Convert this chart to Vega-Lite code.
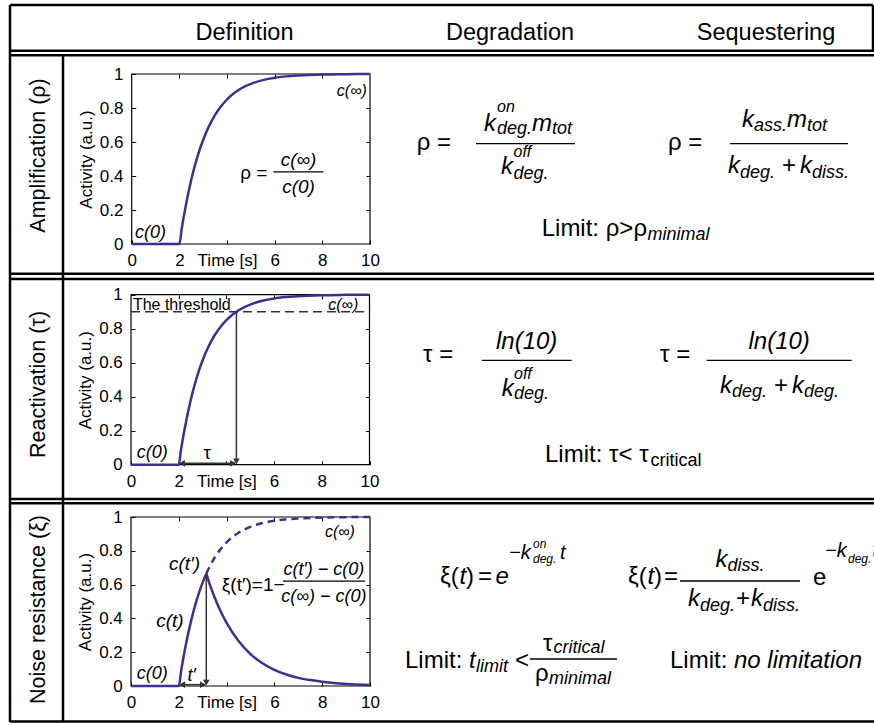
{
"$schema": "https://vega.github.io/schema/vega-lite/v6.json",
"width": 874, "height": 725, "autosize": {"type": "none"}, "padding": 0, "background": "white",
"config": {"view": {"stroke": null}, "font": "Liberation Sans", "axis": {"labelFont": "Liberation Sans", "titleFont": "Liberation Sans"}},
"datasets": {
"tbl": [
{"x":10,"x2":873,"y":5,"y2":5},{"x":873,"x2":873,"y":5,"y2":50.7},{"x":10,"x2":10,"y":5,"y2":722},{"x":63,"x2":63,"y":55.3,"y2":722},
{"x":10,"x2":874,"y":50.7,"y2":50.7},{"x":10,"x2":874,"y":55.3,"y2":55.3},{"x":10,"x2":874,"y":273.7,"y2":273.7},{"x":10,"x2":874,"y":279,"y2":279},
{"x":10,"x2":874,"y":498.9,"y2":498.9},{"x":10,"x2":874,"y":503.3,"y2":503.3},{"x":10,"x2":874,"y":721.5,"y2":721.5}],
"frac": [
{"x":476,"x2":575,"y":143.7},{"x":730,"x2":848,"y":143.7},{"x":481.7,"x2":571.7,"y":360.3},{"x":706.7,"x2":851.7,"y":360.3},{"x":680,"x2":800,"y":581},{"x":530,"x2":617,"y":659}],
"txt": [
{"x":244.5,"y":39.5,"text":"Definition","role":"head"},{"x":510,"y":39.5,"text":"Degradation","role":"head"},{"x":766,"y":39.5,"text":"Sequestering","role":"head"},
{"x":45,"y":155.5,"text":"Amplification (ρ)","role":"rowlab"},{"x":45,"y":384.5,"text":"Reactivation (τ)","role":"rowlab"},{"x":45,"y":609.5,"text":"Noise resistance (ξ)","role":"rowlab"},
{"x":416.7,"y":150,"text":"ρ =","role":"m"},{"x":668,"y":150,"text":"ρ =","role":"m"},{"x":782,"y":173,"text":"+","role":"m"},{"x":541.7,"y":236.3,"text":"Limit: ρ>ρ","role":"m"},
{"x":423,"y":361.5,"text":"τ =","role":"m"},{"x":660,"y":361.5,"text":"τ =","role":"m"},{"x":774,"y":392.7,"text":"+","role":"m"},{"x":545,"y":462,"text":"Limit: τ< τ","role":"m"},
{"x":440,"y":584,"text":"ξ(","role":"m"},{"x":466,"y":584,"text":")","role":"m"},{"x":478,"y":584,"text":"=","role":"m"},
{"x":628,"y":584,"text":"ξ(","role":"m"},{"x":654,"y":584,"text":")","role":"m"},{"x":664,"y":584,"text":"=","role":"m"},
{"x":736,"y":606.3,"text":"+","role":"m"},{"x":813,"y":585,"text":"e","role":"m"},
{"x":405,"y":668,"text":"Limit:","role":"m"},{"x":515,"y":668,"text":"<","role":"m"},{"x":543,"y":651.3,"text":"τ","role":"m"},{"x":535,"y":681,"text":"ρ","role":"m"},{"x":670,"y":668,"text":"Limit:","role":"m"},
{"x":484,"y":130.7,"text":"k","role":"mi"},{"x":532,"y":130.7,"text":"m","role":"mi"},{"x":501,"y":174,"text":"k","role":"mi"},
{"x":742,"y":127.3,"text":"k","role":"mi"},{"x":787,"y":127.3,"text":"m","role":"mi"},{"x":728,"y":173,"text":"k","role":"mi"},{"x":800,"y":173,"text":"k","role":"mi"},
{"x":496,"y":349.3,"text":"ln(10)","role":"mi"},{"x":748.5,"y":349.3,"text":"ln(10)","role":"mi"},{"x":501.7,"y":396,"text":"k","role":"mi"},
{"x":720,"y":392.7,"text":"k","role":"mi"},{"x":792,"y":392.7,"text":"k","role":"mi"},
{"x":459.5,"y":584,"text":"t","role":"mi"},{"x":495.5,"y":584,"text":"e","role":"mi"},{"x":647.5,"y":584,"text":"t","role":"mi"},
{"x":715.5,"y":567.3,"text":"k","role":"mi"},{"x":688,"y":606.3,"text":"k","role":"mi"},{"x":751,"y":606.3,"text":"k","role":"mi"},
{"x":469,"y":668,"text":"t","role":"mi"},{"x":734,"y":668,"text":"no limitation","role":"mi"},
{"x":497,"y":134,"text":"deg.","role":"sub"},{"x":552,"y":134,"text":"tot","role":"sub"},{"x":513.5,"y":179,"text":"deg.","role":"sub"},
{"x":754,"y":131.3,"text":"ass.","role":"sub"},{"x":807,"y":131.3,"text":"tot","role":"sub"},{"x":740,"y":178,"text":"deg.","role":"sub"},{"x":812,"y":178,"text":"diss.","role":"sub"},
{"x":647.4,"y":240,"text":"minimal","role":"sub"},{"x":514,"y":399.3,"text":"deg.","role":"sub"},{"x":732,"y":397,"text":"deg.","role":"sub"},{"x":804,"y":397,"text":"deg.","role":"sub"},
{"x":727.5,"y":571,"text":"diss.","role":"sub"},{"x":700,"y":610.7,"text":"deg.","role":"sub"},{"x":763,"y":610.7,"text":"diss.","role":"sub"},
{"x":476,"y":672,"text":"limit","role":"sub"},{"x":553.5,"y":653,"text":"critical","role":"sub"},{"x":548.9,"y":684,"text":"minimal","role":"sub"},
{"x":650.6,"y":466,"text":"critical","role":"subn"},
{"x":497,"y":112.3,"text":"on","role":"sup"},{"x":513.5,"y":157.3,"text":"off","role":"sup"},{"x":514,"y":378.7,"text":"off","role":"sup"},
{"x":509,"y":558.7,"text":"−k","role":"exp"},{"x":560,"y":558.7,"text":"t","role":"exp"},{"x":825,"y":557,"text":"−k","role":"exp"},{"x":872.5,"y":557,"text":"t","role":"exp"},
{"x":533,"y":548,"text":"on","role":"tiny"},{"x":533,"y":563,"text":"deg.","role":"tiny"},{"x":848,"y":563,"text":"deg.","role":"tiny"}],
"c12": [{"t":0,"v":0},{"t":2,"v":0},{"t":2.1,"v":0.091},{"t":2.25,"v":0.211},{"t":2.5,"v":0.378},{"t":2.75,"v":0.51},{"t":3,"v":0.613},{"t":3.25,"v":0.695},{"t":3.5,"v":0.76},{"t":3.75,"v":0.81},{"t":4,"v":0.85},{"t":4.25,"v":0.882},{"t":4.5,"v":0.907},{"t":4.75,"v":0.927},{"t":5,"v":0.942},{"t":5.5,"v":0.964},{"t":6,"v":0.978},{"t":6.5,"v":0.986},{"t":7,"v":0.991},{"t":8,"v":0.997},{"t":9,"v":0.999},{"t":10,"v":1}],
"c3": [
{"t":0,"v":0,"part":"rise"},{"t":2,"v":0,"part":"rise"},{"t":2.1,"v":0.091,"part":"rise"},{"t":2.25,"v":0.211,"part":"rise"},{"t":2.5,"v":0.378,"part":"rise"},{"t":2.75,"v":0.51,"part":"rise"},{"t":3,"v":0.613,"part":"rise"},{"t":3.15,"v":0.665,"part":"rise"},
{"t":3.15,"v":0.665,"part":"cont"},{"t":3.25,"v":0.695,"part":"cont"},{"t":3.5,"v":0.76,"part":"cont"},{"t":3.75,"v":0.81,"part":"cont"},{"t":4,"v":0.85,"part":"cont"},{"t":4.5,"v":0.907,"part":"cont"},{"t":5,"v":0.942,"part":"cont"},{"t":5.5,"v":0.964,"part":"cont"},{"t":6,"v":0.978,"part":"cont"},{"t":6.5,"v":0.986,"part":"cont"},{"t":7,"v":0.991,"part":"cont"},{"t":8,"v":0.997,"part":"cont"},{"t":9,"v":0.999,"part":"cont"},{"t":10,"v":1,"part":"cont"},
{"t":3.15,"v":0.665,"part":"decay"},{"t":3.25,"v":0.621,"part":"decay"},{"t":3.5,"v":0.524,"part":"decay"},{"t":3.75,"v":0.442,"part":"decay"},{"t":4,"v":0.373,"part":"decay"},{"t":4.5,"v":0.266,"part":"decay"},{"t":5,"v":0.189,"part":"decay"},{"t":5.5,"v":0.135,"part":"decay"},{"t":6,"v":0.096,"part":"decay"},{"t":6.5,"v":0.068,"part":"decay"},{"t":7,"v":0.048,"part":"decay"},{"t":7.5,"v":0.035,"part":"decay"},{"t":8,"v":0.025,"part":"decay"},{"t":9,"v":0.012,"part":"decay"},{"t":10,"v":0.006,"part":"decay"}],
"frame": [{"t0":0,"t1":10,"v0":0,"v1":1}],
"a1": [{"t":0.14,"v":0.035,"text":"c(0)","role":"lab"},{"t":9.87,"v":0.869,"text":"c(∞)","role":"inf"},{"t":4.55,"v":0.382,"text":"ρ =","role":"nl"},{"t":7.0,"v":0.457,"text":"c(∞)","role":"ci"},{"t":7.0,"v":0.3,"text":"c(0)","role":"ci"}],
"a2": [{"t":0.08,"v":0.912,"text":"The threshold","role":"thr"},{"t":9.53,"v":0.912,"text":"c(∞)","role":"inf"},{"t":0.24,"v":0.04,"text":"c(0)","role":"lab"},{"t":3.2,"v":0.032,"text":"τ","role":"nc"}],
"a3": [{"t":9.37,"v":0.88,"text":"c(∞)","role":"inf"},{"t":2.24,"v":0.688,"text":"c(t′)","role":"ci"},{"t":1.63,"v":0.347,"text":"c(t)","role":"ci"},{"t":0.24,"v":0.043,"text":"c(0)","role":"lab"},{"t":2.54,"v":0.031,"text":"t′","role":"cs"},{"t":3.8,"v":0.564,"text":"ξ(t′)=1−","role":"nl"},{"t":8.07,"v":0.655,"text":"c(t′) − c(0)","role":"cs"},{"t":8.07,"v":0.497,"text":"c(∞) − c(0)","role":"cs"}],
"fl1": [{"t":5.95,"t2":8.05,"v":0.424}],
"fl3": [{"t":6.36,"t2":9.79,"v":0.62}],
"thr2": [{"t":0,"t2":10,"v":0.9}],
"ar2": [{"t":4.42,"v":0.9,"t2":4.42,"v2":0.03},{"t":2.05,"v":0.008,"t2":4.35,"v2":0.008}],
"hd2": [{"t":4.42,"v":0.02,"dir":"down"},{"t":2.14,"v":0.008,"dir":"left"},{"t":4.28,"v":0.008,"dir":"right"}],
"ar3": [{"t":3.15,"v":0.66,"t2":3.15,"v2":0.03},{"t":2.05,"v":0.008,"t2":3.1,"v2":0.008}],
"hd3": [{"t":3.15,"v":0.02,"dir":"down"},{"t":2.14,"v":0.008,"dir":"left"},{"t":3.01,"v":0.008,"dir":"right"}]
},
"layer": [
{"layer": [
 {"data":{"name":"tbl"},"mark":{"type":"rule","color":"black","strokeWidth":2.5},"encoding":{"x":{"field":"x","type":"quantitative","scale":{"domain":[0,874],"range":[0,874],"nice":false,"zero":false},"axis":null},"x2":{"field":"x2"},"y":{"field":"y","type":"quantitative","scale":{"domain":[0,725],"range":[0,725],"nice":false,"zero":false},"axis":null},"y2":{"field":"y2"}}},
 {"data":{"name":"frac"},"mark":{"type":"rule","color":"black","strokeWidth":1.3},"encoding":{"x":{"field":"x","type":"quantitative","axis":null},"x2":{"field":"x2"},"y":{"field":"y","type":"quantitative","axis":null}}},
 {"data":{"name":"txt"},"transform":[{"filter":"datum.role == 'head'"}],"mark":{"type":"text","fontSize":23.5,"align":"center","baseline":"alphabetic","color":"black"},"encoding":{"x":{"field":"x","type":"quantitative","axis":null},"y":{"field":"y","type":"quantitative","axis":null},"text":{"field":"text"}}},
 {"data":{"name":"txt"},"transform":[{"filter":"datum.role == 'rowlab'"}],"mark":{"type":"text","fontSize":21.5,"angle":270,"align":"center","baseline":"alphabetic","color":"black"},"encoding":{"x":{"field":"x","type":"quantitative","axis":null},"y":{"field":"y","type":"quantitative","axis":null},"text":{"field":"text"}}},
 {"data":{"name":"txt"},"transform":[{"filter":"datum.role == 'm'"}],"mark":{"type":"text","fontSize":24,"align":"left","baseline":"alphabetic","color":"black"},"encoding":{"x":{"field":"x","type":"quantitative","axis":null},"y":{"field":"y","type":"quantitative","axis":null},"text":{"field":"text"}}},
 {"data":{"name":"txt"},"transform":[{"filter":"datum.role == 'mi'"}],"mark":{"type":"text","fontSize":24,"fontStyle":"italic","align":"left","baseline":"alphabetic","color":"black"},"encoding":{"x":{"field":"x","type":"quantitative","axis":null},"y":{"field":"y","type":"quantitative","axis":null},"text":{"field":"text"}}},
 {"data":{"name":"txt"},"transform":[{"filter":"datum.role == 'sub'"}],"mark":{"type":"text","fontSize":18,"fontStyle":"italic","align":"left","baseline":"alphabetic","color":"black"},"encoding":{"x":{"field":"x","type":"quantitative","axis":null},"y":{"field":"y","type":"quantitative","axis":null},"text":{"field":"text"}}},
 {"data":{"name":"txt"},"transform":[{"filter":"datum.role == 'subn'"}],"mark":{"type":"text","fontSize":18,"align":"left","baseline":"alphabetic","color":"black"},"encoding":{"x":{"field":"x","type":"quantitative","axis":null},"y":{"field":"y","type":"quantitative","axis":null},"text":{"field":"text"}}},
 {"data":{"name":"txt"},"transform":[{"filter":"datum.role == 'sup'"}],"mark":{"type":"text","fontSize":16,"fontStyle":"italic","align":"left","baseline":"alphabetic","color":"black"},"encoding":{"x":{"field":"x","type":"quantitative","axis":null},"y":{"field":"y","type":"quantitative","axis":null},"text":{"field":"text"}}},
 {"data":{"name":"txt"},"transform":[{"filter":"datum.role == 'exp'"}],"mark":{"type":"text","fontSize":20,"fontStyle":"italic","align":"left","baseline":"alphabetic","color":"black"},"encoding":{"x":{"field":"x","type":"quantitative","axis":null},"y":{"field":"y","type":"quantitative","axis":null},"text":{"field":"text"}}},
 {"data":{"name":"txt"},"transform":[{"filter":"datum.role == 'tiny'"}],"mark":{"type":"text","fontSize":12,"fontStyle":"italic","align":"left","baseline":"alphabetic","color":"black"},"encoding":{"x":{"field":"x","type":"quantitative","axis":null},"y":{"field":"y","type":"quantitative","axis":null},"text":{"field":"text"}}}
]},
{"layer": [
 {"data":{"name":"frame"},"mark":{"type":"rect","filled":false,"color":"black","stroke":"black","strokeWidth":1.2},"encoding":{
  "x":{"field":"t0","type":"quantitative","scale":{"domain":[0,10],"range":[131.7,370],"nice":false,"zero":false},"axis":{"orient":"top","offset":-74,"values":[2,4,6,8],"labels":false,"title":null,"domain":false,"grid":false,"tickSize":-4,"tickColor":"black"}},
  "x2":{"field":"t1"},
  "y":{"field":"v0","type":"quantitative","scale":{"domain":[0,1],"range":[244,74],"nice":false,"zero":false},"axis":{"orient":"right","offset":-504,"values":[0.2,0.4,0.6,0.8],"labels":false,"title":null,"domain":false,"grid":false,"tickSize":-4,"tickColor":"black"}},
  "y2":{"field":"v1"}}},
 {"data":{"name":"c12"},"mark":{"type":"line","color":"#3e2f91","strokeWidth":2.5,"interpolate":"monotone"},"encoding":{
  "x":{"field":"t","type":"quantitative","axis":{"orient":"bottom","offset":-481,"values":[0,2,4,6,8,10],"labelExpr":"datum.value == 4 ? 'Time [s]' : datum.label","title":null,"domain":false,"grid":false,"tickSize":-4,"tickColor":"black","labelFontSize":17,"labelColor":"black","labelPadding":12.5,"labelFlush":false,"labelOverlap":false}},
  "y":{"field":"v","type":"quantitative","axis":{"orient":"left","offset":-131.7,"values":[0,0.2,0.4,0.6,0.8,1],"format":"~g","title":"Activity (a.u.)","titleFontSize":17,"titleFontWeight":"normal","titleColor":"black","titlePadding":4,"domain":false,"grid":false,"tickSize":-4,"tickColor":"black","labelFontSize":17,"labelColor":"black","labelPadding":12.7,"labelFlush":false,"labelOverlap":false}}}},
 {"data":{"name":"fl1"},"mark":{"type":"rule","color":"black","strokeWidth":1.2},"encoding":{"x":{"field":"t","type":"quantitative","axis":null},"x2":{"field":"t2"},"y":{"field":"v","type":"quantitative","axis":null}}},
 {"data":{"name":"a1"},"transform":[{"filter":"datum.role == 'lab'"}],"mark":{"type":"text","fontSize":18,"fontStyle":"italic","align":"left","baseline":"alphabetic","color":"black"},"encoding":{"x":{"field":"t","type":"quantitative","axis":null},"y":{"field":"v","type":"quantitative","axis":null},"text":{"field":"text"}}},
 {"data":{"name":"a1"},"transform":[{"filter":"datum.role == 'inf'"}],"mark":{"type":"text","fontSize":16,"fontStyle":"italic","align":"right","baseline":"alphabetic","color":"black"},"encoding":{"x":{"field":"t","type":"quantitative","axis":null},"y":{"field":"v","type":"quantitative","axis":null},"text":{"field":"text"}}},
 {"data":{"name":"a1"},"transform":[{"filter":"datum.role == 'ci'"}],"mark":{"type":"text","fontSize":19,"fontStyle":"italic","align":"center","baseline":"alphabetic","color":"black"},"encoding":{"x":{"field":"t","type":"quantitative","axis":null},"y":{"field":"v","type":"quantitative","axis":null},"text":{"field":"text"}}},
 {"data":{"name":"a1"},"transform":[{"filter":"datum.role == 'nl'"}],"mark":{"type":"text","fontSize":19,"align":"left","baseline":"alphabetic","color":"black"},"encoding":{"x":{"field":"t","type":"quantitative","axis":null},"y":{"field":"v","type":"quantitative","axis":null},"text":{"field":"text"}}}
],
"resolve":{"axis":{"x":"independent","y":"independent"}}},
{"layer": [
 {"data":{"name":"frame"},"mark":{"type":"rect","filled":false,"color":"black","stroke":"black","strokeWidth":1.2},"encoding":{
  "x":{"field":"t0","type":"quantitative","scale":{"domain":[0,10],"range":[131,369.5],"nice":false,"zero":false},"axis":{"orient":"top","offset":-294.7,"values":[2,4,6,8],"labels":false,"title":null,"domain":false,"grid":false,"tickSize":-4,"tickColor":"black"}},
  "x2":{"field":"t1"},
  "y":{"field":"v0","type":"quantitative","scale":{"domain":[0,1],"range":[464.7,294.7],"nice":false,"zero":false},"axis":{"orient":"right","offset":-504.5,"values":[0.2,0.4,0.6,0.8],"labels":false,"title":null,"domain":false,"grid":false,"tickSize":-4,"tickColor":"black"}},
  "y2":{"field":"v1"}}},
 {"data":{"name":"thr2"},"mark":{"type":"rule","color":"#333333","strokeWidth":1.4,"strokeDash":[9,5]},"encoding":{"x":{"field":"t","type":"quantitative","axis":null},"x2":{"field":"t2"},"y":{"field":"v","type":"quantitative","axis":null}}},
 {"data":{"name":"c12"},"mark":{"type":"line","color":"#3e2f91","strokeWidth":2.5,"interpolate":"monotone"},"encoding":{
  "x":{"field":"t","type":"quantitative","axis":{"orient":"bottom","offset":-260.3,"values":[0,2,4,6,8,10],"labelExpr":"datum.value == 4 ? 'Time [s]' : datum.label","title":null,"domain":false,"grid":false,"tickSize":-4,"tickColor":"black","labelFontSize":17,"labelColor":"black","labelPadding":12.5,"labelFlush":false,"labelOverlap":false}},
  "y":{"field":"v","type":"quantitative","axis":{"orient":"left","offset":-131,"values":[0,0.2,0.4,0.6,0.8,1],"format":"~g","title":"Activity (a.u.)","titleFontSize":17,"titleFontWeight":"normal","titleColor":"black","titlePadding":4,"domain":false,"grid":false,"tickSize":-4,"tickColor":"black","labelFontSize":17,"labelColor":"black","labelPadding":12.7,"labelFlush":false,"labelOverlap":false}}}},
 {"data":{"name":"ar2"},"mark":{"type":"rule","color":"#333333","strokeWidth":1.5},"encoding":{"x":{"field":"t","type":"quantitative","axis":null},"x2":{"field":"t2"},"y":{"field":"v","type":"quantitative","axis":null},"y2":{"field":"v2"}}},
 {"data":{"name":"hd2"},"mark":{"type":"point","filled":true,"color":"#333333","size":45,"opacity":1},"encoding":{"x":{"field":"t","type":"quantitative","axis":null},"y":{"field":"v","type":"quantitative","axis":null},"shape":{"field":"dir","type":"nominal","scale":{"domain":["down","left","right"],"range":["triangle-down","triangle-left","triangle-right"]},"legend":null}}},
 {"data":{"name":"a2"},"transform":[{"filter":"datum.role == 'lab'"}],"mark":{"type":"text","fontSize":18,"fontStyle":"italic","align":"left","baseline":"alphabetic","color":"black"},"encoding":{"x":{"field":"t","type":"quantitative","axis":null},"y":{"field":"v","type":"quantitative","axis":null},"text":{"field":"text"}}},
 {"data":{"name":"a2"},"transform":[{"filter":"datum.role == 'inf'"}],"mark":{"type":"text","fontSize":16,"fontStyle":"italic","align":"right","baseline":"alphabetic","color":"black"},"encoding":{"x":{"field":"t","type":"quantitative","axis":null},"y":{"field":"v","type":"quantitative","axis":null},"text":{"field":"text"}}},
 {"data":{"name":"a2"},"transform":[{"filter":"datum.role == 'thr'"}],"mark":{"type":"text","fontSize":16,"align":"left","baseline":"alphabetic","color":"black"},"encoding":{"x":{"field":"t","type":"quantitative","axis":null},"y":{"field":"v","type":"quantitative","axis":null},"text":{"field":"text"}}},
 {"data":{"name":"a2"},"transform":[{"filter":"datum.role == 'nc'"}],"mark":{"type":"text","fontSize":19,"align":"center","baseline":"alphabetic","color":"black"},"encoding":{"x":{"field":"t","type":"quantitative","axis":null},"y":{"field":"v","type":"quantitative","axis":null},"text":{"field":"text"}}}
],
"resolve":{"axis":{"x":"independent","y":"independent"}}},
{"layer": [
 {"data":{"name":"frame"},"mark":{"type":"rect","filled":false,"color":"black","stroke":"black","strokeWidth":1.2},"encoding":{
  "x":{"field":"t0","type":"quantitative","scale":{"domain":[0,10],"range":[131,370],"nice":false,"zero":false},"axis":{"orient":"top","offset":-517,"values":[2,4,6,8],"labels":false,"title":null,"domain":false,"grid":false,"tickSize":-4,"tickColor":"black"}},
  "x2":{"field":"t1"},
  "y":{"field":"v0","type":"quantitative","scale":{"domain":[0,1],"range":[686,517],"nice":false,"zero":false},"axis":{"orient":"right","offset":-504,"values":[0.2,0.4,0.6,0.8],"labels":false,"title":null,"domain":false,"grid":false,"tickSize":-4,"tickColor":"black"}},
  "y2":{"field":"v1"}}},
 {"data":{"name":"c3"},"transform":[{"filter":"datum.part == 'rise'"}],"mark":{"type":"line","color":"#3e2f91","strokeWidth":2.5,"interpolate":"monotone"},"encoding":{
  "x":{"field":"t","type":"quantitative","axis":{"orient":"bottom","offset":-39,"values":[0,2,4,6,8,10],"labelExpr":"datum.value == 4 ? 'Time [s]' : datum.label","title":null,"domain":false,"grid":false,"tickSize":-4,"tickColor":"black","labelFontSize":17,"labelColor":"black","labelPadding":12.5,"labelFlush":false,"labelOverlap":false}},
  "y":{"field":"v","type":"quantitative","axis":{"orient":"left","offset":-131,"values":[0,0.2,0.4,0.6,0.8,1],"format":"~g","title":"Activity (a.u.)","titleFontSize":17,"titleFontWeight":"normal","titleColor":"black","titlePadding":4,"domain":false,"grid":false,"tickSize":-4,"tickColor":"black","labelFontSize":17,"labelColor":"black","labelPadding":12.7,"labelFlush":false,"labelOverlap":false}}}},
 {"data":{"name":"c3"},"transform":[{"filter":"datum.part == 'cont'"}],"mark":{"type":"line","color":"#3e2f91","strokeWidth":2.5,"strokeDash":[7,5],"interpolate":"monotone"},"encoding":{"x":{"field":"t","type":"quantitative","axis":null},"y":{"field":"v","type":"quantitative","axis":null}}},
 {"data":{"name":"c3"},"transform":[{"filter":"datum.part == 'decay'"}],"mark":{"type":"line","color":"#3e2f91","strokeWidth":2.5,"interpolate":"monotone"},"encoding":{"x":{"field":"t","type":"quantitative","axis":null},"y":{"field":"v","type":"quantitative","axis":null}}},
 {"data":{"name":"fl3"},"mark":{"type":"rule","color":"black","strokeWidth":1.2},"encoding":{"x":{"field":"t","type":"quantitative","axis":null},"x2":{"field":"t2"},"y":{"field":"v","type":"quantitative","axis":null}}},
 {"data":{"name":"ar3"},"mark":{"type":"rule","color":"#333333","strokeWidth":1.5},"encoding":{"x":{"field":"t","type":"quantitative","axis":null},"x2":{"field":"t2"},"y":{"field":"v","type":"quantitative","axis":null},"y2":{"field":"v2"}}},
 {"data":{"name":"hd3"},"mark":{"type":"point","filled":true,"color":"#333333","size":45,"opacity":1},"encoding":{"x":{"field":"t","type":"quantitative","axis":null},"y":{"field":"v","type":"quantitative","axis":null},"shape":{"field":"dir","type":"nominal","scale":{"domain":["down","left","right"],"range":["triangle-down","triangle-left","triangle-right"]},"legend":null}}},
 {"data":{"name":"a3"},"transform":[{"filter":"datum.role == 'lab'"}],"mark":{"type":"text","fontSize":18,"fontStyle":"italic","align":"left","baseline":"alphabetic","color":"black"},"encoding":{"x":{"field":"t","type":"quantitative","axis":null},"y":{"field":"v","type":"quantitative","axis":null},"text":{"field":"text"}}},
 {"data":{"name":"a3"},"transform":[{"filter":"datum.role == 'inf'"}],"mark":{"type":"text","fontSize":16,"fontStyle":"italic","align":"right","baseline":"alphabetic","color":"black"},"encoding":{"x":{"field":"t","type":"quantitative","axis":null},"y":{"field":"v","type":"quantitative","axis":null},"text":{"field":"text"}}},
 {"data":{"name":"a3"},"transform":[{"filter":"datum.role == 'ci'"}],"mark":{"type":"text","fontSize":19,"fontStyle":"italic","align":"center","baseline":"alphabetic","color":"black"},"encoding":{"x":{"field":"t","type":"quantitative","axis":null},"y":{"field":"v","type":"quantitative","axis":null},"text":{"field":"text"}}},
 {"data":{"name":"a3"},"transform":[{"filter":"datum.role == 'cs'"}],"mark":{"type":"text","fontSize":18,"fontStyle":"italic","align":"center","baseline":"alphabetic","color":"black"},"encoding":{"x":{"field":"t","type":"quantitative","axis":null},"y":{"field":"v","type":"quantitative","axis":null},"text":{"field":"text"}}},
 {"data":{"name":"a3"},"transform":[{"filter":"datum.role == 'nl'"}],"mark":{"type":"text","fontSize":19,"align":"left","baseline":"alphabetic","color":"black"},"encoding":{"x":{"field":"t","type":"quantitative","axis":null},"y":{"field":"v","type":"quantitative","axis":null},"text":{"field":"text"}}}
],
"resolve":{"axis":{"x":"independent","y":"independent"}}}
],
"resolve": {"scale": {"x": "independent", "y": "independent"}}
}
